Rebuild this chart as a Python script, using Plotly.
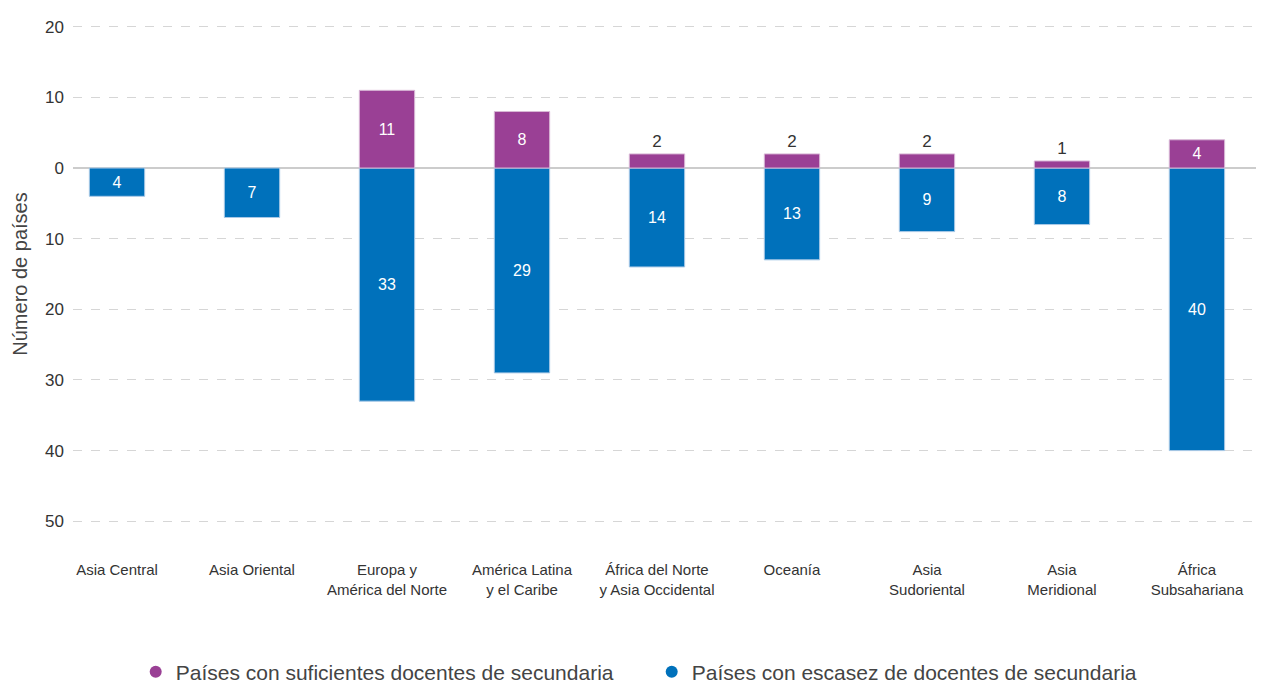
import plotly.graph_objects as go

categories = ["Asia Central", "Asia Oriental", "Europa y<br>América del Norte",
              "América Latina<br>y el Caribe", "África del Norte<br>y Asia Occidental",
              "Oceanía", "Asia<br>Sudoriental", "Asia<br>Meridional", "África<br>Subsahariana"]
suficientes = [None, None, 11, 8, 2, 2, 2, 1, 4]
escasez = [4, 7, 33, 29, 14, 13, 9, 8, 40]
tick_vals = [20, 10, 0, -10, -20, -30, -40, -50]
tick_text = ["20", "10", "0", "10", "20", "30", "40", "50"]

name_suf = "Países con suficientes docentes de secundaria"
name_esc = "Países con escasez de docentes de secundaria"
purple = "#9a4095"
blue = "#0071bb"
font_c = "Liberation Sans, Arial, sans-serif"

x = list(range(len(categories)))

suf_text = [("" if v is None else str(v)) for v in suficientes]
suf_pos = ["outside" if (v is not None and v <= 2) else "inside" for v in suficientes]

fig = go.Figure()
fig.add_trace(go.Bar(
    x=x, y=[-v for v in escasez], name=name_esc, marker=dict(color=blue, line=dict(color="#a9c9e6", width=1)),
    width=0.41, text=[str(v) for v in escasez], textposition="inside", insidetextanchor="middle",
    textfont=dict(color="white", size=16, family=font_c), showlegend=False, hoverinfo="skip",
    cliponaxis=False))
fig.add_trace(go.Bar(
    x=x, y=suficientes, name=name_suf, marker=dict(color=purple, line=dict(color="#d9b8d6", width=1)),
    width=0.41, text=suf_text, textposition=suf_pos, insidetextanchor="middle",
    insidetextfont=dict(color="white", size=16, family=font_c),
    outsidetextfont=dict(color="#333333", size=17, family=font_c),
    showlegend=False, hoverinfo="skip", cliponaxis=False))

# legend entries with circle markers
fig.add_trace(go.Scatter(x=[None], y=[None], mode="markers", name=name_suf,
                         marker=dict(color=purple, size=13, symbol="circle")))
fig.add_trace(go.Scatter(x=[None], y=[None], mode="markers", name=name_esc,
                         marker=dict(color=blue, size=13, symbol="circle")))

fig.update_layout(
    width=1256, height=677,
    margin=dict(l=65, r=4, t=17, b=162),
    barmode="relative",
    plot_bgcolor="white", paper_bgcolor="white",
    font=dict(family=font_c, color="#333333", size=16),
    showlegend=True,
    legend=dict(orientation="h", x=0.5125, xref="container", xanchor="center",
                y=0.019, yref="container", yanchor="middle",
                font=dict(family=font_c, size=21, color="#444444"),
                itemsizing="constant", itemwidth=30, tracegroupgap=0,
                entrywidth=471, entrywidthmode="pixels"),
    xaxis=dict(tickmode="array", tickvals=x, ticktext=categories, range=[-0.326, 8.467],
               showgrid=False, zeroline=False, showline=False, ticks="",
               automargin=False, ticklabelstandoff=36,
               tickfont=dict(size=15, color="#333333", family=font_c)),
    yaxis=dict(range=[-50.25, 20.25], tickmode="array", tickvals=tick_vals, ticktext=tick_text,
               showgrid=True, gridcolor="#d6d6d6", griddash="dash", gridwidth=1,
               zeroline=True, zerolinecolor="#cccccc", zerolinewidth=2,
               showline=False, ticks="", ticklabelstandoff=8, automargin=False,
               tickfont=dict(size=17, color="#333333", family=font_c),
               title=dict(text="Número de países", standoff=12,
                          font=dict(size=20, color="#444444", family=font_c))),
)

fig.write_html("out.html")
